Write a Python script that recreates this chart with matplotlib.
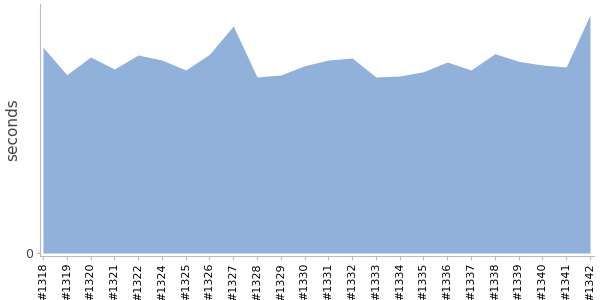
import matplotlib
matplotlib.use("Agg")
import matplotlib.pyplot as plt
import numpy as np

builds = ["#1318", "#1319", "#1320", "#1321", "#1322", "#1324", "#1325", "#1326",
          "#1327", "#1328", "#1329", "#1330", "#1331", "#1332", "#1333", "#1334",
          "#1335", "#1336", "#1337", "#1338", "#1339", "#1340", "#1341", "#1342"]
seconds = [205.7, 178.3, 196.0, 184.0, 198.0, 193.0, 183.0, 198.7,
           227.0, 176.0, 178.0, 187.3, 193.0, 195.0, 176.0, 177.0,
           181.3, 191.0, 183.0, 199.3, 191.7, 188.0, 186.0, 238.0]

AREA_COLOR = "#8fb1da"
AXIS_COLOR = "#bbbbbb"

fig = plt.figure(figsize=(6, 3), dpi=100)
ax = fig.add_axes([40 / 600, 44 / 300, 554 / 600, 252 / 300])

x = np.arange(len(builds))
ax.fill_between(x, 0, seconds, color=AREA_COLOR, linewidth=0)

ax.set_xlim(-0.126, len(builds) - 1 + 0.17)
ax.set_ylim(-3, 249)

ax.set_xticks(x)
ax.set_xticklabels(builds, rotation=90, fontsize=8, color="#000000")
ax.set_yticks([0])
ax.set_yticklabels(["0"], fontsize=9, color="#444444")
ax.tick_params(axis="both", color=AXIS_COLOR, length=3, width=0.8, pad=2)

for side in ("top", "right"):
    ax.spines[side].set_visible(False)
for side in ("left", "bottom"):
    ax.spines[side].set_color(AXIS_COLOR)
    ax.spines[side].set_linewidth(0.8)

ax.set_ylabel("seconds", fontsize=11, color="#444444")
ax.yaxis.set_label_coords(-0.036, 0.5)

fig.savefig("out.png", dpi=100)
